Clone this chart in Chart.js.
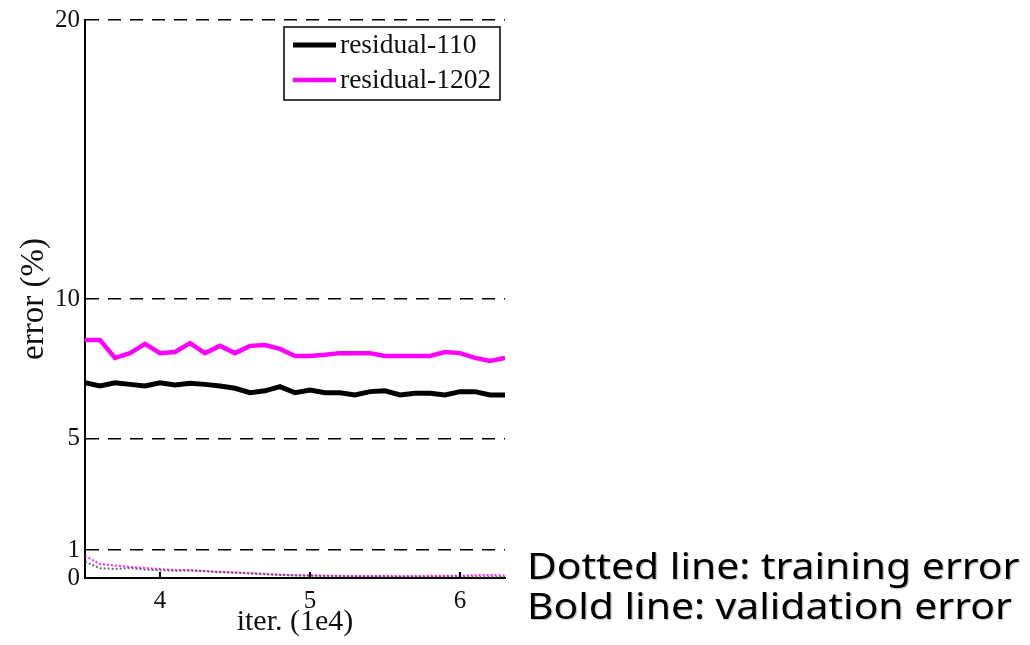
<!DOCTYPE html>
<html>
<head>
<meta charset="utf-8">
<script src="https://cdn.jsdelivr.net/npm/chart.js@4/dist/chart.umd.min.js"></script>
<style>
  body { margin: 0; background: #fff; }
  #wrap { position: relative; width: 1030px; height: 645px; }
  .note { position: absolute; left: 527px; font-family: 'Noto Sans', sans-serif; font-size: 36px; color: #000; white-space: nowrap; line-height: 40px; transform: scaleX(1.135); transform-origin: left center; text-shadow: 1px 1px 1px rgba(0,0,0,0.25); }
</style>
</head>
<body>
<div id="wrap">
  <canvas id="myChart" width="1030" height="645"></canvas>
  <div class="note" style="top:546px">Dotted line: training error</div>
  <div class="note" style="top:586px">Bold line: validation error</div>
</div>
<script>
// iterations (x 1e4)
const iters = [3.5, 3.6, 3.7, 3.8, 3.9, 4.0, 4.1, 4.2, 4.3, 4.4, 4.5, 4.6, 4.7, 4.8, 4.9,
  5.0, 5.1, 5.2, 5.3, 5.4, 5.5, 5.6, 5.7, 5.8, 5.9, 6.0, 6.1, 6.2, 6.3];

// validation error (%) - bold lines
const val110 = [7.0, 6.88, 7.0, 6.94, 6.88, 7.0, 6.92, 6.98, 6.94, 6.88, 6.80, 6.64, 6.71, 6.86, 6.64,
  6.74, 6.64, 6.64, 6.56, 6.68, 6.71, 6.56, 6.62, 6.62, 6.56, 6.68, 6.68, 6.56, 6.56];
const val1202 = [8.53, 8.53, 7.89, 8.06, 8.39, 8.06, 8.10, 8.42, 8.06, 8.32, 8.06, 8.32, 8.35, 8.21, 7.96,
  7.96, 8.0, 8.06, 8.06, 8.06, 7.96, 7.96, 7.96, 7.96, 8.10, 8.06, 7.89, 7.78, 7.89];

// training error (%) - dotted lines
const train110 = [0.58, 0.35, 0.33, 0.36, 0.30, 0.28, 0.26, 0.27, 0.24, 0.21, 0.19, 0.16, 0.13, 0.11, 0.09,
  0.08, 0.07, 0.06, 0.05, 0.05, 0.05, 0.04, 0.05, 0.04, 0.05, 0.05, 0.04, 0.04, 0.04];
const train1202 = [0.79, 0.50, 0.45, 0.40, 0.36, 0.32, 0.29, 0.28, 0.25, 0.22, 0.20, 0.18, 0.15, 0.12, 0.10,
  0.10, 0.09, 0.08, 0.07, 0.07, 0.08, 0.07, 0.07, 0.08, 0.08, 0.09, 0.10, 0.11, 0.09];

const xTicks = [4, 5, 6];
const yTicks = [0, 1, 5, 10, 20];

const toXY = (arr) => arr.map((v, i) => ({ x: iters[i], y: v }));

// legend box in the top right of the plot, only for bold lines
const boxLegend = {
  id: 'boxLegend',
  afterDatasetsDraw(chart) {
    const { ctx, chartArea } = chart;
    const items = chart.data.datasets.filter((d) => d.label);
    const w = 216, rowH = 35;
    const x0 = chartArea.right - 5 - w, y0 = chartArea.top + 7;
    const h = items.length * rowH + 3;
    ctx.save();
    ctx.fillStyle = '#fff';
    ctx.fillRect(x0, y0, w, h);
    ctx.strokeStyle = '#000';
    ctx.lineWidth = 1.5;
    ctx.strokeRect(x0, y0, w, h);
    ctx.font = '27.5px "Liberation Serif"';
    ctx.textBaseline = 'middle';
    items.forEach((d, i) => {
      const y = y0 + 18 + i * rowH;
      ctx.strokeStyle = d.borderColor;
      ctx.lineWidth = d.borderWidth;
      ctx.beginPath();
      ctx.moveTo(x0 + 9, y);
      ctx.lineTo(x0 + 52, y);
      ctx.stroke();
      ctx.fillStyle = '#111';
      ctx.fillText(d.label, x0 + 56, y + 1);
    });
    ctx.restore();
  }
};

// small inward tick marks on the x axis
const innerTicks = {
  id: 'innerTicks',
  afterDraw(chart) {
    const { ctx, chartArea, scales } = chart;
    ctx.save();
    ctx.strokeStyle = '#000';
    ctx.lineWidth = 2;
    xTicks.forEach((v) => {
      const x = scales.x.getPixelForValue(v);
      ctx.beginPath();
      ctx.moveTo(x, chartArea.bottom);
      ctx.lineTo(x, chartArea.bottom - 6);
      ctx.stroke();
    });
    ctx.restore();
  }
};

const ctx = document.getElementById('myChart').getContext('2d');
const myChart = new Chart(ctx, {
  type: 'line',
  data: {
    datasets: [
      { label: '', data: toXY(train110), borderColor: 'rgba(60,60,60,0.75)', borderWidth: 2, borderDash: [2, 2] },
      { label: '', data: toXY(train1202), borderColor: 'rgba(255,0,255,0.85)', borderWidth: 2, borderDash: [2, 2] },
      { label: 'residual-110', data: toXY(val110), borderColor: '#000', borderWidth: 5 },
      { label: 'residual-1202', data: toXY(val1202), borderColor: '#ff00ff', borderWidth: 4.5 },
    ],
  },
  options: {
    responsive: false,
    animation: false,
    devicePixelRatio: 1,
    elements: { point: { radius: 0 }, line: { tension: 0 } },
    layout: { padding: { left: 0, top: 20, right: 525, bottom: 0 } },
    plugins: { legend: { display: false }, tooltip: { enabled: false } },
    scales: {
      x: {
        type: 'linear',
        min: 3.5,
        max: 6.3,
        afterBuildTicks: (scale) => { scale.ticks = xTicks.map((v) => ({ value: v })); },
        afterFit: (scale) => { scale.height = 67; },
        grid: { display: false, drawTicks: false },
        border: { display: true, color: '#000', width: 2 },
        ticks: { color: '#111', padding: 8, font: { family: 'Liberation Serif', size: 25 }, callback: (v) => String(v) },
        title: { display: true, text: 'iter. (1e4)', color: '#111', padding: { bottom: 5 }, font: { family: 'Liberation Serif', size: 30 } },
      },
      y: {
        min: 0,
        max: 20,
        afterBuildTicks: (scale) => { scale.ticks = yTicks.map((v) => ({ value: v })); },
        afterFit: (scale) => { scale.width = 85; },
        grid: {
          drawTicks: false,
          lineWidth: 1.5,
          color: (c) => (c.tick && c.tick.value === 0 ? 'rgba(0,0,0,0)' : '#000'),
        },
        border: { display: true, color: '#000', width: 2, dash: [13, 9] },
        ticks: { color: '#111', padding: 5, font: { family: 'Liberation Serif', size: 25 }, callback: (v) => String(v) },
        title: { display: true, text: 'error (%)', color: '#111', padding: { top: 15 }, font: { family: 'Liberation Serif', size: 33 } },
      },
    },
  },
  plugins: [boxLegend, innerTicks],
});
</script>
</body>
</html>
